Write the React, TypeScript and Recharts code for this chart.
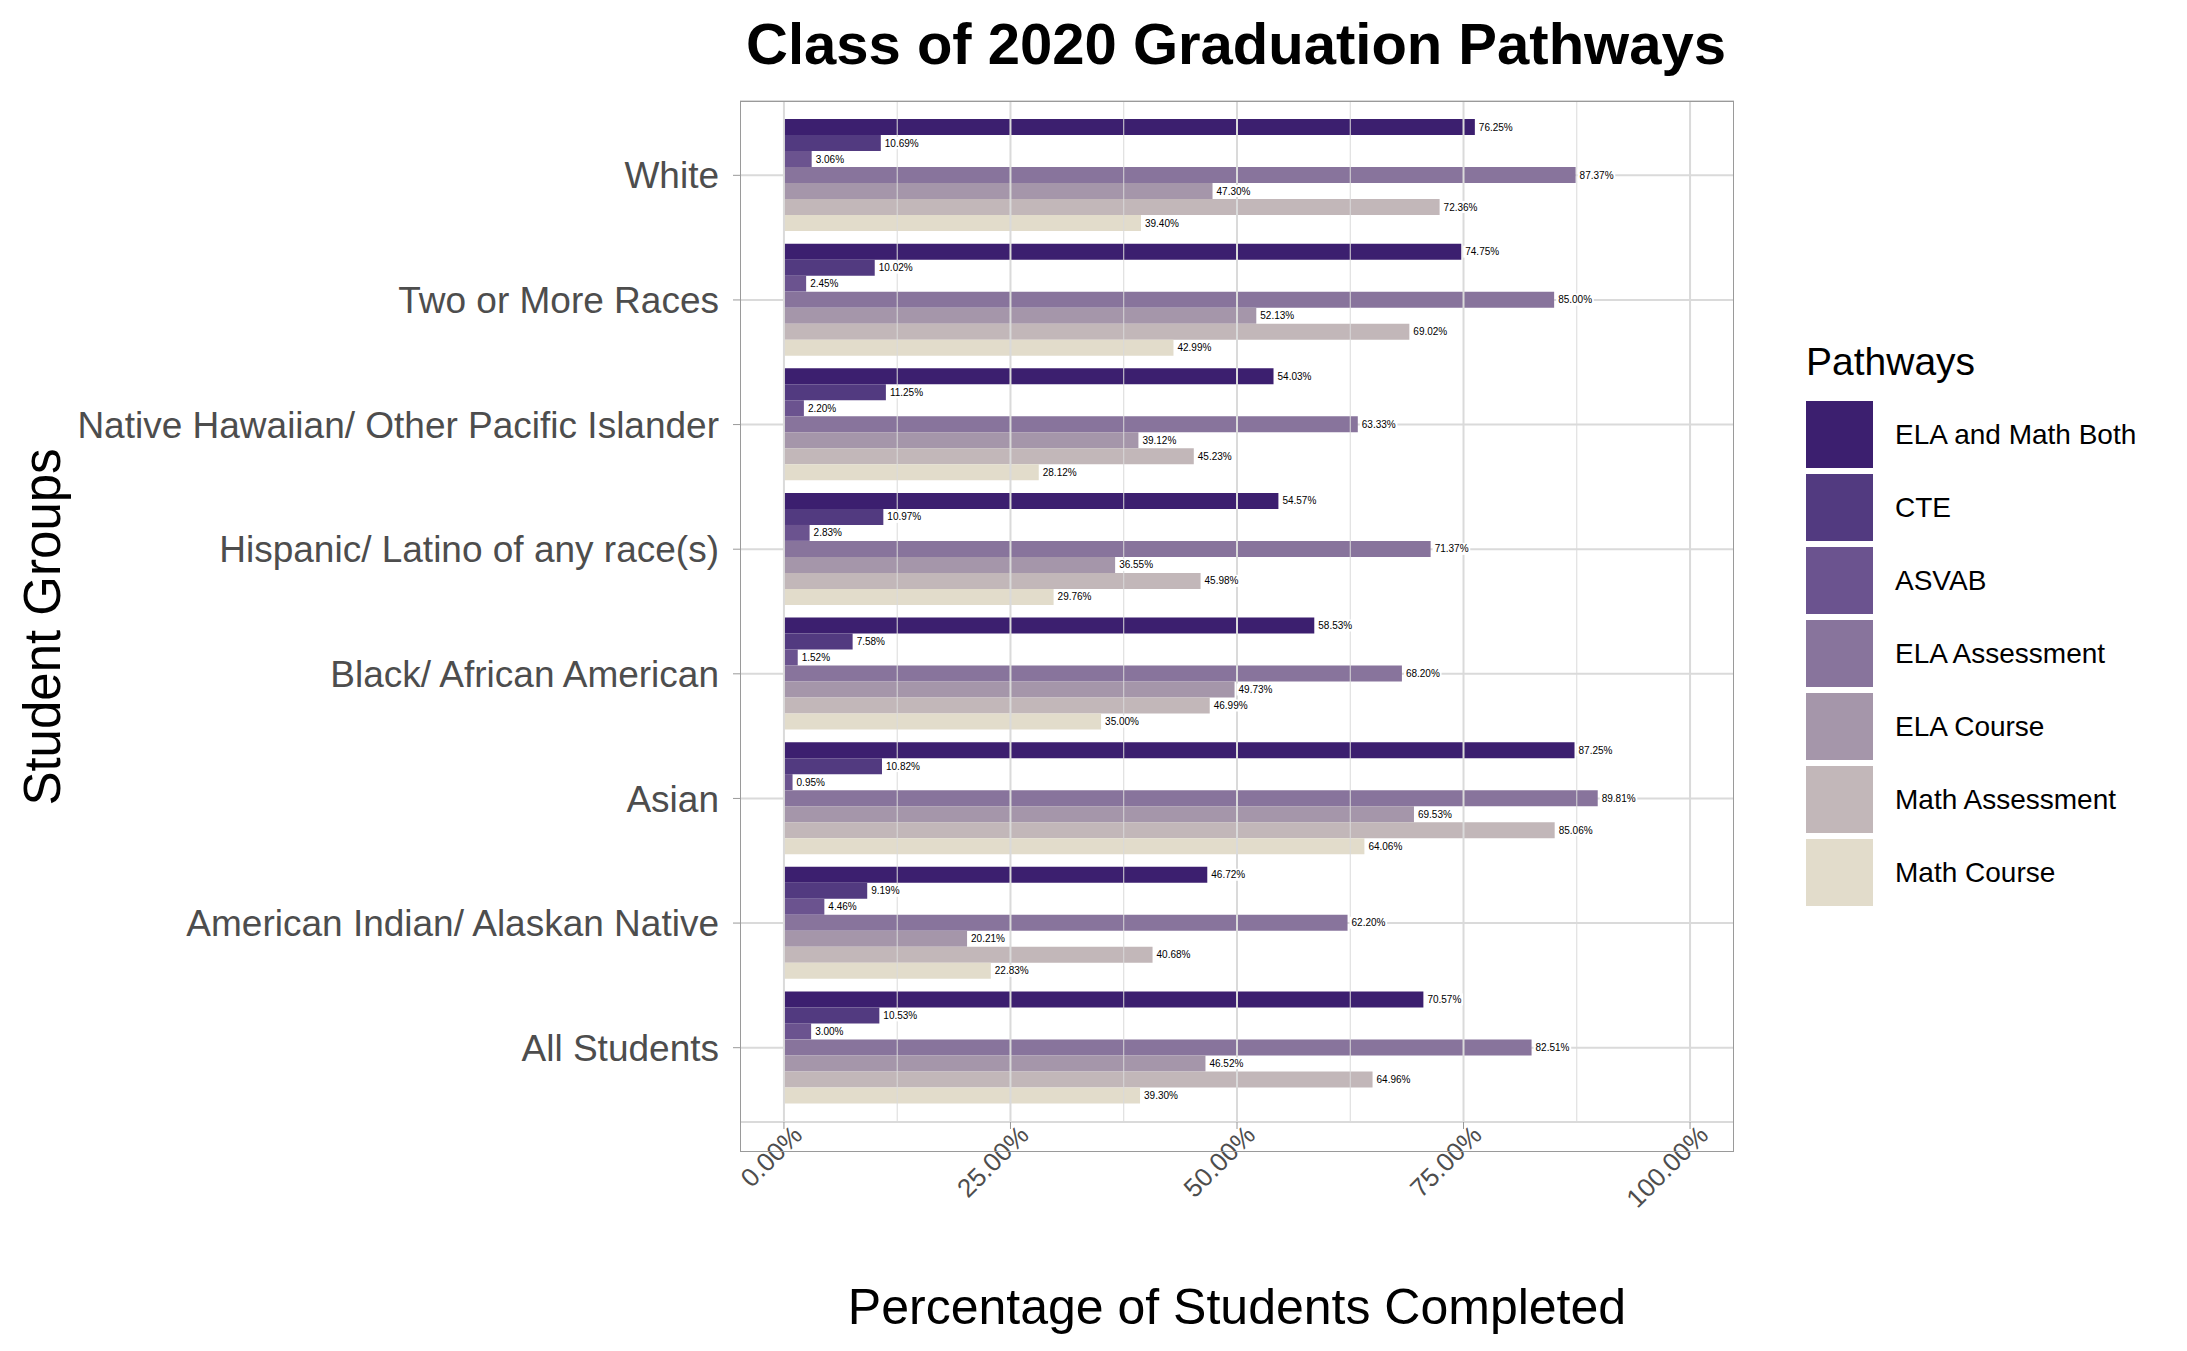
import { BarChart, Bar, XAxis, YAxis, CartesianGrid, ReferenceLine, LabelList } from 'recharts';

const groups = [
  'White',
  'Two or More Races',
  'Native Hawaiian/ Other Pacific Islander',
  'Hispanic/ Latino of any race(s)',
  'Black/ African American',
  'Asian',
  'American Indian/ Alaskan Native',
  'All Students',
];

const elaMathBoth = [76.25, 74.75, 54.03, 54.57, 58.53, 87.25, 46.72, 70.57];
const cte = [10.69, 10.02, 11.25, 10.97, 7.58, 10.82, 9.19, 10.53];
const asvab = [3.06, 2.45, 2.2, 2.83, 1.52, 0.95, 4.46, 3.0];
const elaAssessment = [87.37, 85.0, 63.33, 71.37, 68.2, 89.81, 62.2, 82.51];
const elaCourse = [47.3, 52.13, 39.12, 36.55, 49.73, 69.53, 20.21, 46.52];
const mathAssessment = [72.36, 69.02, 45.23, 45.98, 46.99, 85.06, 40.68, 64.96];
const mathCourse = [39.4, 42.99, 28.12, 29.76, 35.0, 64.06, 22.83, 39.3];

const pathways = [
  { key: 'ELA and Math Both', values: elaMathBoth, color: '#3c1f6f' },
  { key: 'CTE', values: cte, color: '#523a80' },
  { key: 'ASVAB', values: asvab, color: '#6b538f' },
  { key: 'ELA Assessment', values: elaAssessment, color: '#88749c' },
  { key: 'ELA Course', values: elaCourse, color: '#a596aa' },
  { key: 'Math Assessment', values: mathAssessment, color: '#c2b7b9' },
  { key: 'Math Course', values: mathCourse, color: '#e2dccb' },
];

const xTicks = [0, 25, 50, 75, 100];
const gridLines = [0, 12.5, 25, 37.5, 50, 62.5, 75, 87.5, 100];

const data = groups.map((g, i) => {
  const row: Record<string, any> = { group: g };
  pathways.forEach((p) => (row[p.key] = p.values[i]));
  return row;
});

const font = 'Liberation Sans, Arial, sans-serif';

const ValueLabel = (props: any) => {
  const { x, y, width, height, value } = props;
  const txt = `${Number(value).toFixed(2)}%`;
  const tx = x + width + 2;
  const w = txt.length * 5.6 + 4;
  return (
    <g>
      <rect x={tx} y={y + height / 2 - 6} width={w} height={12} fill="#fff" />
      <text x={tx + 2} y={y + height / 2} dy={3.5} fontSize={10} fill="#000" fontFamily={font}>
        {txt}
      </text>
    </g>
  );
};

const XTick = (props: any) => {
  const { x, y, payload } = props;
  return (
    <text
      x={x}
      y={y}
      textAnchor="end"
      fontSize={26}
      fill="#4d4d4d"
      fontFamily={font}
      transform={`rotate(-45 ${x} ${y})`}
      dx={10}
      dy={18}
    >
      {`${payload.value.toFixed(2)}%`}
    </text>
  );
};

export default function App() {
  return (
    <div style={{ position: 'absolute', left: 0, top: 0, width: 2187, height: 1351, background: '#fff', fontFamily: font }}>
      <div style={{ position: 'absolute', left: 0, top: 10, width: 2472, textAlign: 'center', fontSize: 58, fontWeight: 'bold' }}>
        Class of 2020 Graduation Pathways
      </div>
      <BarChart
        width={2187}
        height={1351}
        data={data}
        layout="vertical"
        margin={{ top: 101, right: 453, bottom: 199, left: 60 }}
        barGap={0}
        barCategoryGap={6}
      >
        <CartesianGrid vertical={false} stroke="#dadada" strokeWidth={2} />
        {gridLines.map((g) => (
          <ReferenceLine key={g} x={g} stroke="#dadada" strokeWidth={g % 25 === 0 ? 2 : 1} />
        ))}
        <XAxis
          type="number"
          domain={[-4.85, 104.85]}
          ticks={xTicks}
          allowDataOverflow
          tick={<XTick />}
          tickSize={7}
          axisLine={false}
          tickLine={{ stroke: '#999' }}
          interval={0}
        />
        <YAxis
          type="category"
          dataKey="group"
          width={680}
          padding={{ top: 12, bottom: 12 }}
          tickSize={7}
          tickMargin={14}
          axisLine={false}
          tickLine={{ stroke: '#999' }}
          tick={{ fontSize: 37, fill: '#4d4d4d', fontFamily: font }}
          interval={0}
        />
        {pathways.map((p) => (
          <Bar key={p.key} dataKey={p.key} fill={p.color} isAnimationActive={false}>
            <LabelList dataKey={p.key} content={<ValueLabel />} />
          </Bar>
        ))}
      </BarChart>
      <div style={{ position: 'absolute', left: 740, top: 101, width: 992, height: 1049, border: '1.5px solid #9a9a9a', pointerEvents: 'none' }} />
      <div
        style={{
          position: 'absolute',
          left: 42,
          top: 627,
          transform: 'translate(-50%, -50%) rotate(-90deg)',
          fontSize: 51,
          whiteSpace: 'nowrap',
        }}
      >
        Student Groups
      </div>
      <div style={{ position: 'absolute', left: 740, width: 994, top: 1278, textAlign: 'center', fontSize: 50 }}>
        Percentage of Students Completed
      </div>
      <div style={{ position: 'absolute', left: 1806, top: 340 }}>
        <div style={{ fontSize: 39, marginBottom: 14 }}>Pathways</div>
        {pathways.map((p) => (
          <div key={p.key} style={{ display: 'flex', alignItems: 'center', height: 73 }}>
            <div style={{ width: 67, height: 67, background: p.color, marginRight: 22 }} />
            <span style={{ fontSize: 28 }}>{p.key}</span>
          </div>
        ))}
      </div>
    </div>
  );
}
